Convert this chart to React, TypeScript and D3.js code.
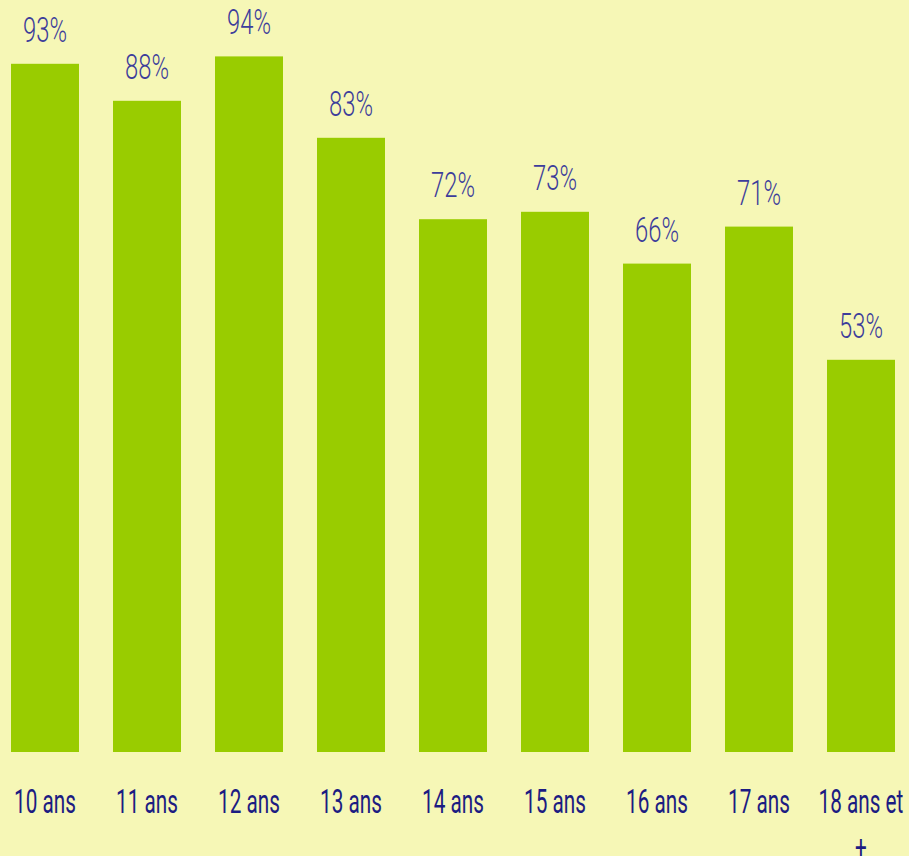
import React from "react";
import * as d3 from "d3";

const categories = ["10 ans", "11 ans", "12 ans", "13 ans", "14 ans", "15 ans", "16 ans", "17 ans", "18 ans et\n+"];
const values = [93, 88, 94, 83, 72, 73, 66, 71, 53];

const W = 909;
const H = 856;
const FONT = "Roboto, 'Liberation Sans', Arial, sans-serif";

export default function App() {
  const x = d3.scaleBand<string>().domain(categories).range([11, 895]).paddingInner(1 / 3).paddingOuter(0);
  const y = d3.scaleLinear().domain([0, 100]).range([752, 12]);
  return (
    <svg width={W} height={H} style={{ position: "absolute", left: 0, top: 0, display: "block" }}>
      <rect x={0} y={0} width={W} height={H} fill="#f6f7b6" />
      {categories.map((c, i) => {
        const bx = x(c)!;
        const cx = bx + x.bandwidth() / 2;
        const top = y(values[i]);
        const lines = c.split("\n");
        return (
          <g key={c}>
            <rect x={bx} y={top} width={x.bandwidth()} height={y(0) - top} fill="#99cc00" />
            <g transform={`translate(${cx},${top - 22}) scale(0.68,1)`}>
              <text textAnchor="middle" fontFamily={FONT} fontWeight={300} fontSize={35} fill="#3d3d9b">
                {values[i]}%
              </text>
            </g>
            <g transform={`translate(${cx},813) scale(0.61,1)`}>
              <text textAnchor="middle" fontFamily={FONT} fontWeight={400} fontSize={34} fill="#1c1c82">
                {lines.map((l, j) => (
                  <tspan key={j} x={0} dy={j === 0 ? 0 : 46}>
                    {l}
                  </tspan>
                ))}
              </text>
            </g>
          </g>
        );
      })}
    </svg>
  );
}
